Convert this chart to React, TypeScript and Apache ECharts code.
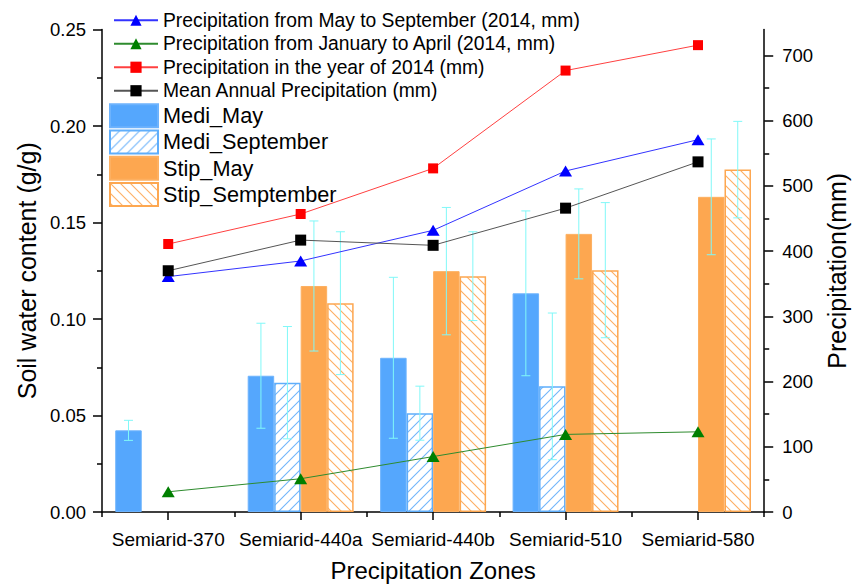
import React, { useEffect, useRef } from 'react';
import * as echarts from 'echarts';

const categories = ['Semiarid-370', 'Semiarid-440a', 'Semiarid-440b', 'Semiarid-510', 'Semiarid-580'];

const mediMay = [0.0423, 0.0706, 0.0799, 0.1133, null];
const mediMayErr = [0.0052, 0.0272, 0.0417, 0.0427, null];
const mediSep = [null, 0.067, 0.0512, 0.0651, null];
const mediSepErr = [null, 0.0291, 0.014, 0.038, null];
const stipMay = [null, 0.1171, 0.1248, 0.1441, 0.1633];
const stipMayErr = [null, 0.0337, 0.033, 0.0233, 0.03];
const stipSep = [null, 0.1082, 0.1222, 0.1253, 0.1774];
const stipSepErr = [null, 0.037, 0.023, 0.035, 0.025];

const precipMaySep = [361, 385, 432, 523, 571];
const precipJanApr = [31, 51, 85, 119, 123];
const precip2014 = [411, 457, 527, 677, 716];
const precipMean = [370, 417, 409, 466, 537];

const rightMajorTicks = [0, 100, 200, 300, 400, 500, 600, 700];
const rightMinorTicks = [50, 150, 250, 350, 450, 550, 650];

const FONT = '"Liberation Sans", Arial, Helvetica, sans-serif';

function hatch(color: string, dir: 'up' | 'down') {
  const s = 10;
  const c = document.createElement('canvas');
  c.width = s;
  c.height = s;
  const ctx = c.getContext('2d')!;
  ctx.fillStyle = '#ffffff';
  ctx.fillRect(0, 0, s, s);
  ctx.strokeStyle = color;
  ctx.lineWidth = 1.1;
  ctx.beginPath();
  if (dir === 'up') {
    ctx.moveTo(-1, s + 1); ctx.lineTo(s + 1, -1);
    ctx.moveTo(-1, 1); ctx.lineTo(1, -1);
    ctx.moveTo(s - 1, s + 1); ctx.lineTo(s + 1, s - 1);
  } else {
    ctx.moveTo(-1, -1); ctx.lineTo(s + 1, s + 1);
    ctx.moveTo(s - 1, -1); ctx.lineTo(s + 1, 1);
    ctx.moveTo(-1, s - 1); ctx.lineTo(1, s + 1);
  }
  ctx.stroke();
  return { image: c, repeat: 'repeat' as const, imageWidth: s, imageHeight: s };
}

export default function App() {
  const ref = useRef<HTMLDivElement>(null);
  useEffect(() => {
    if (!ref.current) return;
    const chart = echarts.init(ref.current, null, { renderer: 'svg' });

    const barSets = [
      { vals: mediMay, errs: mediMayErr },
      { vals: mediSep, errs: mediSepErr },
      { vals: stipMay, errs: stipMayErr },
      { vals: stipSep, errs: stipSepErr },
    ];
    const errData: any[] = [];
    barSets.forEach((b, bi) => {
      b.vals.forEach((v, ci) => {
        if (v != null && b.errs[ci] != null) errData.push([ci, v, b.errs[ci], bi]);
      });
    });

    const lineSeries = (name: string, data: number[], lineColor: string, markColor: string, symbol: string, size: any) => ({
      name,
      type: 'line',
      xAxisIndex: 0,
      yAxisIndex: 1,
      data,
      symbol,
      symbolSize: size,
      z: 5,
      lineStyle: { color: lineColor, width: 1 },
      itemStyle: { color: markColor },
    });

    const option: any = {
      animation: false,
      textStyle: { fontFamily: FONT },
      grid: { left: 102, right: 92, top: 29.5, bottom: 70.5, containLabel: false },
      legend: [
        {
          data: [
            'Precipitation from May to September (2014, mm)',
            'Precipitation from January to April (2014, mm)',
            'Precipitation in the year of 2014 (mm)',
            'Mean Annual Precipitation (mm)',
          ],
          orient: 'vertical',
          left: 113,
          top: 8.5,
          itemWidth: 44,
          itemHeight: 14,
          itemGap: 0,
          padding: 0,
          textStyle: { fontSize: 19.3, lineHeight: 23.5, color: '#000', fontFamily: FONT },
        },
        {
          data: ['Medi_May', 'Medi_September', 'Stip_May', 'Stip_Semptember'],
          orient: 'vertical',
          left: 109,
          top: 102.5,
          icon: 'rect',
          itemWidth: 48,
          itemHeight: 23,
          itemGap: 0,
          padding: 0,
          textStyle: { fontSize: 21.7, lineHeight: 26.3, color: '#000', fontFamily: FONT },
        },
      ],
      xAxis: [
        {
          type: 'category',
          data: categories,
          position: 'bottom',
          name: 'Precipitation Zones',
          nameLocation: 'middle',
          nameGap: 46,
          nameTextStyle: { fontSize: 24, color: '#000', fontFamily: FONT },
          axisLine: { show: true, lineStyle: { color: '#000', width: 1.5 } },
          axisTick: { show: true, alignWithLabel: true, length: 8, lineStyle: { color: '#000', width: 1.5 } },
          axisLabel: { interval: 0, fontSize: 19, color: '#000', margin: 18, fontFamily: FONT },
          splitLine: { show: false },
        },
        {
          type: 'category',
          data: categories,
          position: 'bottom',
          axisLine: { show: false },
          axisTick: { show: true, interval: 0, alignWithLabel: false, length: 5, lineStyle: { color: '#000', width: 1.5 } },
          axisLabel: { show: false },
          splitLine: { show: false },
        },
      ],
      yAxis: [
        {
          type: 'value',
          min: 0,
          max: 0.25,
          interval: 0.05,
          position: 'left',
          name: 'Soil water content (g/g)',
          nameLocation: 'middle',
          nameGap: 57,
          nameTextStyle: { fontSize: 25, color: '#000', fontFamily: FONT },
          axisLine: { show: true, lineStyle: { color: '#000', width: 1.5 } },
          axisTick: { show: true, length: 9, lineStyle: { color: '#000', width: 1.5 } },
          minorTick: { show: true, splitNumber: 2, length: 5, lineStyle: { color: '#000', width: 1.5 } },
          axisLabel: { fontSize: 18.5, color: '#000', margin: 16, formatter: (v: number) => v.toFixed(2), fontFamily: FONT },
          splitLine: { show: false },
          minorSplitLine: { show: false },
        },
        {
          type: 'value',
          min: 0,
          max: 740,
          position: 'right',
          name: 'Precipitation(mm)',
          nameLocation: 'middle',
          nameGap: 39,
          nameTextStyle: { fontSize: 25, color: '#000', fontFamily: FONT },
          axisLine: { show: true, lineStyle: { color: '#000', width: 1.5 } },
          axisTick: { show: true, length: 9, customValues: rightMajorTicks, lineStyle: { color: '#000', width: 1.5 } },
          axisLabel: { fontSize: 18.5, color: '#000', margin: 18, customValues: rightMajorTicks, fontFamily: FONT },
          splitLine: { show: false },
        },
        {
          type: 'value',
          min: 0,
          max: 740,
          position: 'right',
          axisLine: { show: false },
          axisTick: { show: true, length: 5, customValues: rightMinorTicks, lineStyle: { color: '#000', width: 1.5 } },
          axisLabel: { show: false },
          splitLine: { show: false },
        },
      ],
      series: [
        {
          name: 'Medi_May', type: 'bar', xAxisIndex: 0, yAxisIndex: 0, data: mediMay,
          barGap: '0%', barCategoryGap: '20%', z: 2,
          itemStyle: { color: '#55A7FD', borderColor: '#6DB3FD', borderWidth: 1 },
        },
        {
          name: 'Medi_September', type: 'bar', xAxisIndex: 0, yAxisIndex: 0, data: mediSep,
          barGap: '0%', barCategoryGap: '20%', z: 2,
          itemStyle: { color: hatch('#72B6FA', 'up'), borderColor: '#5FAEFB', borderWidth: 1.5 },
        },
        {
          name: 'Stip_May', type: 'bar', xAxisIndex: 0, yAxisIndex: 0, data: stipMay,
          barGap: '0%', barCategoryGap: '20%', z: 2,
          itemStyle: { color: '#FDA750', borderColor: '#FDB061', borderWidth: 1 },
        },
        {
          name: 'Stip_Semptember', type: 'bar', xAxisIndex: 0, yAxisIndex: 0, data: stipSep,
          barGap: '0%', barCategoryGap: '20%', z: 2,
          itemStyle: { color: hatch('#FDAE62', 'down'), borderColor: '#FDA750', borderWidth: 1.5 },
        },
        {
          name: 'errors', type: 'custom', xAxisIndex: 0, yAxisIndex: 0, z: 3,
          data: errData,
          renderItem: (params: any, api: any) => {
            const ci = api.value(0);
            const v = api.value(1);
            const e = api.value(2);
            const bi = api.value(3);
            const band = api.size([1, 0])[0];
            const bw = (band * 0.8) / 4;
            const c = api.coord([ci, v]);
            const x = c[0] + (bi - 1.5) * bw;
            const top = api.coord([ci, v + e])[1];
            const bot = api.coord([ci, v - e])[1];
            const cap = 4.5;
            const st = { stroke: '#80F8F8', lineWidth: 1 };
            return {
              type: 'group',
              children: [
                { type: 'line', shape: { x1: x, y1: top, x2: x, y2: bot }, style: st },
                { type: 'line', shape: { x1: x - cap, y1: top, x2: x + cap, y2: top }, style: st },
                { type: 'line', shape: { x1: x - cap, y1: bot, x2: x + cap, y2: bot }, style: st },
              ],
            };
          },
        },
        lineSeries('Precipitation from May to September (2014, mm)', precipMaySep, '#3333FF', '#0000FF', 'triangle', [13, 11]),
        lineSeries('Precipitation from January to April (2014, mm)', precipJanApr, '#2E8B2E', '#007F00', 'triangle', [13, 11]),
        lineSeries('Precipitation in the year of 2014 (mm)', precip2014, '#FF4040', '#FF0000', 'rect', 10),
        lineSeries('Mean Annual Precipitation (mm)', precipMean, '#555555', '#000000', 'rect', 11),
      ],
    };

    chart.setOption(option);
    return () => chart.dispose();
  }, []);

  return (
    <div
      ref={ref}
      style={{ position: 'absolute', left: 0, top: 0, width: 857, height: 587, background: '#fff' }}
    />
  );
}
